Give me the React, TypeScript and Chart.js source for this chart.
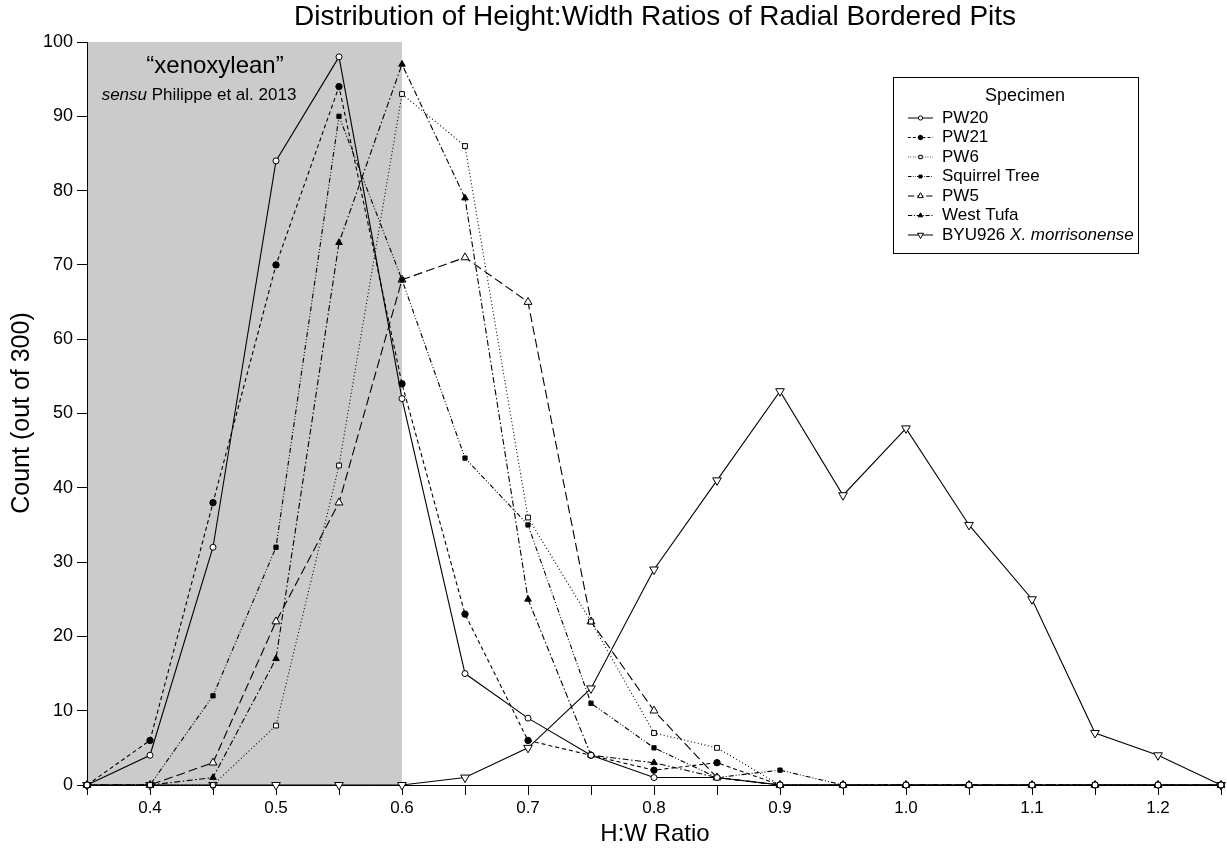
import React, { useEffect, useRef } from 'react';
import { Chart, registerables } from 'chart.js';

Chart.register(...registerables);

const FONT = '"Liberation Sans", Arial, Helvetica, sans-serif';

const ratios = [0.35, 0.4, 0.45, 0.5, 0.55, 0.6, 0.65, 0.7, 0.75, 0.8, 0.85, 0.9, 0.95, 1.0, 1.05, 1.1, 1.15, 1.2, 1.25];

const pw20 = [0, 4, 32, 84, 98, 52, 15, 9, 4, 1, 1, 0, 0, 0, 0, 0, 0, 0, 0];
const pw21 = [0, 6, 38, 70, 94, 54, 23, 6, 4, 2, 3, 0, 0, 0, 0, 0, 0, 0, 0];
const pw6 = [0, 0, 0, 8, 43, 93, 86, 36, 22, 7, 5, 0, 0, 0, 0, 0, 0, 0, 0];
const squirrelTree = [0, 0, 12, 32, 90, 68, 44, 35, 11, 5, 1, 2, 0, 0, 0, 0, 0, 0, 0];
const pw5 = [0, 0, 3, 22, 38, 68, 71, 65, 22, 10, 1, 0, 0, 0, 0, 0, 0, 0, 0];
const westTufa = [0, 0, 1, 17, 73, 97, 79, 25, 4, 3, 1, 0, 0, 0, 0, 0, 0, 0, 0];
const byu926 = [0, 0, 0, 0, 0, 0, 1, 5, 13, 29, 41, 53, 39, 48, 35, 25, 7, 4, 0];

const yTicks = [0, 10, 20, 30, 40, 50, 60, 70, 80, 90, 100];

const shadeFrom = 0.35;
const shadeTo = 0.6;

type Series = {
  label: string;
  values: number[];
  dash: number[];
  shape: 'circle' | 'rect' | 'triangle' | 'down';
  filled: boolean;
  radius: number;
};

const series: Series[] = [
  { label: 'PW20', values: pw20, dash: [], shape: 'circle', filled: false, radius: 3 },
  { label: 'PW21', values: pw21, dash: [4, 3], shape: 'circle', filled: true, radius: 3.2 },
  { label: 'PW6', values: pw6, dash: [1, 2.5], shape: 'rect', filled: false, radius: 3.4 },
  { label: 'Squirrel Tree', values: squirrelTree, dash: [5, 2, 1, 2, 1, 2], shape: 'rect', filled: true, radius: 3 },
  { label: 'PW5', values: pw5, dash: [9, 4], shape: 'triangle', filled: false, radius: 4.6 },
  { label: 'West Tufa', values: westTufa, dash: [6, 2.5, 1.5, 2.5], shape: 'triangle', filled: true, radius: 3.8 },
  { label: 'BYU926', values: byu926, dash: [], shape: 'down', filled: false, radius: 5 },
];

function drawMarker(ctx: CanvasRenderingContext2D, shape: string, x: number, y: number, r: number, filled: boolean) {
  ctx.save();
  ctx.setLineDash([]);
  ctx.lineWidth = 1;
  ctx.strokeStyle = '#000';
  ctx.fillStyle = filled ? '#000' : '#fff';
  ctx.beginPath();
  if (shape === 'circle') {
    ctx.arc(x, y, r, 0, Math.PI * 2);
  } else if (shape === 'rect') {
    const s = r * Math.SQRT1_2;
    ctx.rect(x - s, y - s, 2 * s, 2 * s);
  } else if (shape === 'triangle') {
    ctx.moveTo(x, y - r);
    ctx.lineTo(x + r * 0.866, y + r * 0.5);
    ctx.lineTo(x - r * 0.866, y + r * 0.5);
    ctx.closePath();
  } else {
    ctx.moveTo(x, y + r);
    ctx.lineTo(x + r * 0.866, y - r * 0.5);
    ctx.lineTo(x - r * 0.866, y - r * 0.5);
    ctx.closePath();
  }
  ctx.fill();
  ctx.stroke();
  ctx.restore();
}

const shadePlugin = {
  id: 'shade',
  beforeDraw(chart: any) {
    const { ctx, scales } = chart;
    const xs = scales.x;
    const ys = scales.y;
    const x0 = xs.getPixelForValue(shadeFrom);
    const x1 = xs.getPixelForValue(shadeTo);
    const y0 = ys.getPixelForValue(100);
    const y1 = ys.getPixelForValue(0);
    ctx.save();
    ctx.fillStyle = '#cbcbcb';
    ctx.fillRect(x0, y0, x1 - x0, y1 - y0);
    ctx.restore();
  },
};

const textPlugin = {
  id: 'texts',
  afterDraw(chart: any) {
    const { ctx } = chart;
    ctx.save();
    ctx.fillStyle = '#000';
    ctx.textBaseline = 'middle';

    // Title
    ctx.textAlign = 'center';
    ctx.font = `28px ${FONT}`;
    ctx.fillText('Distribution of Height:Width Ratios of Radial Bordered Pits', 655, 17);

    // Axis titles
    ctx.font = `24px ${FONT}`;
    ctx.fillText('H:W Ratio', 655, 834);
    ctx.save();
    ctx.translate(22, 413);
    ctx.rotate(-Math.PI / 2);
    ctx.font = `25px ${FONT}`;
    ctx.fillText('Count (out of 300)', 0, 0);
    ctx.restore();

    // Annotation
    ctx.font = `24px ${FONT}`;
    ctx.fillText('\u201Cxenoxylean\u201D', 215, 66);
    ctx.textAlign = 'left';
    const p1 = 'sensu';
    const p2 = ' Philippe et al. 2013';
    ctx.font = `italic 17px ${FONT}`;
    const w1 = ctx.measureText(p1).width;
    ctx.font = `17px ${FONT}`;
    const w2 = ctx.measureText(p2).width;
    const sx = 199 - (w1 + w2) / 2;
    ctx.font = `italic 17px ${FONT}`;
    ctx.fillText(p1, sx, 95);
    ctx.font = `17px ${FONT}`;
    ctx.fillText(p2, sx + w1, 95);

    // Legend
    ctx.lineWidth = 1;
    ctx.strokeStyle = '#000';
    ctx.setLineDash([]);
    ctx.fillStyle = '#fff';
    ctx.fillRect(893.5, 77.5, 245, 176);
    ctx.strokeRect(893.5, 77.5, 245, 176);
    ctx.fillStyle = '#000';
    ctx.textAlign = 'center';
    ctx.font = `18px ${FONT}`;
    ctx.fillText('Specimen', 1025, 96);
    ctx.textAlign = 'left';
    series.forEach((s, i) => {
      const y = 118 + i * 19.5;
      ctx.save();
      ctx.strokeStyle = '#000';
      ctx.lineWidth = 1;
      ctx.setLineDash(s.dash.map((d) => d * 0.7));
      ctx.beginPath();
      ctx.moveTo(908, y);
      ctx.lineTo(933, y);
      ctx.stroke();
      ctx.restore();
      drawMarker(ctx, s.shape, 920.5, y, s.radius * 0.7, s.filled);
      ctx.fillStyle = '#000';
      ctx.font = `17px ${FONT}`;
      if (s.label === 'BYU926') {
        ctx.fillText('BYU926 ', 942, y);
        const w = ctx.measureText('BYU926 ').width;
        ctx.font = `italic 17px ${FONT}`;
        ctx.fillText('X.', 942 + w, y);
        const w2b = ctx.measureText('X.').width;
        ctx.font = `17px ${FONT}`;
        const ws = ctx.measureText(' ').width;
        ctx.font = `italic 17px ${FONT}`;
        ctx.fillText('morrisonense', 942 + w + w2b + ws, y);
      } else {
        ctx.fillText(s.label, 942, y);
      }
    });
    ctx.restore();
  },
};

export default function App() {
  const canvasRef = useRef<HTMLCanvasElement | null>(null);

  useEffect(() => {
    const canvas = canvasRef.current;
    if (!canvas) return;
    const chart = new Chart(canvas, {
      type: 'line',
      data: {
        datasets: series.map((s) => ({
          label: s.label,
          data: ratios.map((r, i) => ({ x: r, y: s.values[i] })),
          borderColor: '#000',
          borderWidth: 1.1,
          borderDash: s.dash,
          backgroundColor: s.filled ? '#000' : '#fff',
          pointBackgroundColor: s.filled ? '#000' : '#fff',
          pointBorderColor: '#000',
          pointBorderWidth: 1,
          pointStyle: s.shape === 'down' ? 'triangle' : s.shape,
          pointRotation: s.shape === 'down' ? 180 : 0,
          pointRadius: s.radius,
          pointHoverRadius: s.radius,
          tension: 0,
          fill: false,
          clip: false as any,
        })),
      },
      options: {
        responsive: false,
        animation: false,
        devicePixelRatio: 1,
        layout: { padding: { top: 42, right: 4, left: 0, bottom: 0 } },
        plugins: {
          legend: { display: false },
          title: { display: false },
          tooltip: { enabled: false },
        },
        scales: {
          x: {
            type: 'linear',
            min: 0.35,
            max: 1.25,
            afterBuildTicks: (scale: any) => {
              scale.ticks = ratios.map((v) => ({ value: v }));
            },
            afterFit: (scale: any) => {
              scale.height = 66;
            },
            grid: {
              drawOnChartArea: false,
              drawTicks: true,
              tickLength: 10,
              tickColor: '#000',
              tickWidth: 1,
            },
            border: { display: true, color: '#000', width: 1 },
            ticks: {
              autoSkip: false,
              maxRotation: 0,
              padding: 3,
              color: '#000',
              font: { family: FONT, size: 17 },
              callback: (value: any) => {
                const t = Math.round(Number(value) * 100);
                return t % 10 === 0 ? Number(value).toFixed(1) : '';
              },
            },
          },
          y: {
            type: 'linear',
            min: 0,
            max: 100,
            afterBuildTicks: (scale: any) => {
              scale.ticks = yTicks.map((v) => ({ value: v }));
            },
            afterFit: (scale: any) => {
              scale.width = 87;
            },
            grid: {
              drawOnChartArea: false,
              drawTicks: true,
              tickLength: 10,
              tickColor: '#000',
              tickWidth: 1,
            },
            border: { display: true, color: '#000', width: 1 },
            ticks: {
              padding: 4,
              color: '#000',
              font: { family: FONT, size: 18 },
            },
          },
        },
      },
      plugins: [shadePlugin, textPlugin],
    });
    return () => {
      chart.destroy();
    };
  }, []);

  return (
    <div style={{ position: 'fixed', left: 0, top: 0, width: 1227, height: 851, background: '#fff' }}>
      <canvas ref={canvasRef} width={1227} height={851} style={{ width: 1227, height: 851, display: 'block' }} />
    </div>
  );
}
